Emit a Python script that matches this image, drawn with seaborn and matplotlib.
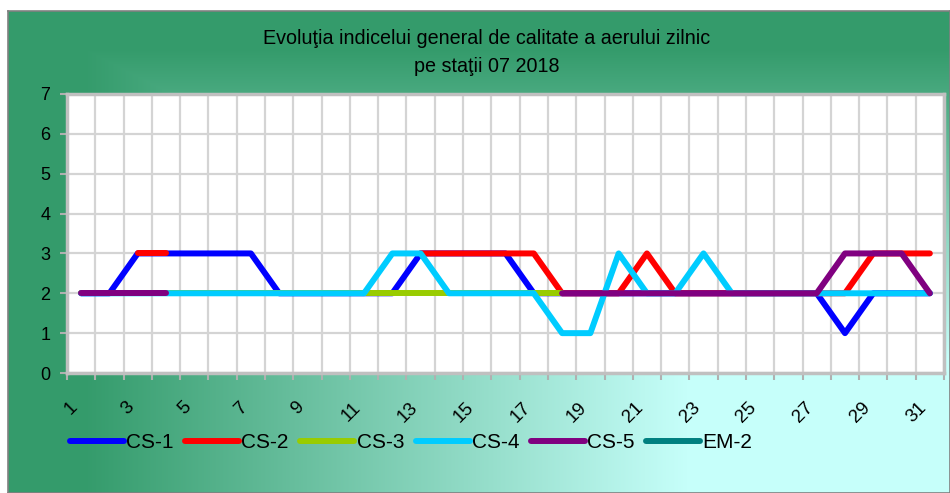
#set up modules
import numpy as np
import pandas as pd
import matplotlib
matplotlib.use("Agg")
import matplotlib.pyplot as plt
import matplotlib.transforms as mtransforms
from matplotlib.lines import Line2D
import seaborn as sns

nan = np.nan

#data (daily air quality index per station, July 2018)
days = list(range(1, 32))
stations = ["CS-1", "CS-2", "CS-3", "CS-4", "CS-5", "EM-2"]
cs1 = [2, 2, 3, 3, 3, 3, 3, 2, 2, 2, 2, 2, 3, 3, 3, 3, 2, 2, 2, 2, 2, 2, 2, 2, 2, 2, 2, 1, 2, 2, 2]
cs2 = [nan, nan, 3, 3, nan, nan, nan, nan, nan, nan, nan, nan, 3, 3, 3, 3, 3, 2, 2, 2, 3, 2, 2, 2, 2, 2, 2, 2, 3, 3, 3]
cs3 = [2, 2, 2, 2, 2, 2, 2, 2, 2, 2, 2, 2, 2, 2, 2, 2, 2, 2, nan, nan, nan, nan, nan, nan, nan, nan, nan, nan, nan, nan, nan]
cs4 = [2, 2, 2, 2, 2, 2, 2, 2, 2, 2, 2, 3, 3, 2, 2, 2, 2, 1, 1, 3, 2, 2, 3, 2, 2, 2, 2, 2, 2, 2, 2]
cs5 = [2, 2, 2, 2, nan, nan, nan, nan, nan, nan, nan, nan, nan, nan, nan, nan, nan, 2, 2, 2, 2, 2, 2, 2, 2, 2, 2, 3, 3, 3, 2]
em2 = [nan] * 31
series = [cs1, cs2, cs3, cs4, cs5, em2]
colors = ["#0000ff", "#ff0000", "#99cc00", "#00ccff", "#800080", "#008080"]

title = "Evoluţia indicelui general de calitate a aerului zilnic\npe staţii 07 2018"

plt.rcParams["font.family"] = ["Liberation Sans", "DejaVu Sans"]

W, H = 950, 493
LW = 4.3
fig = plt.figure(figsize=(W / 100, H / 100), dpi=100)

#background: corner gradient, light cyan at bottom right -> green
bg = fig.add_axes([8 / W, 0, 942 / W, 482 / H], zorder=-5)
gw, gh = 942, 482
xx, yy = np.meshgrid(np.arange(gw), np.arange(gh))  # row 0 = bottom (origin lower)
dx = (gw - xx) / gw
dy = yy / gh
t = np.maximum(dx, dy)
t = np.clip((t - 0.28) / (0.92 - 0.28), 0, 1)
green = np.array([0x34, 0x9b, 0x6b]) / 255
cyan = np.array([0xc6, 0xff, 0xfa]) / 255
img = cyan[None, None, :] * (1 - t[..., None]) + green[None, None, :] * t[..., None]
bg.imshow(img, aspect="auto", origin="lower", extent=(0, gw, 0, gh),
          interpolation="nearest")
bg.set_xticks([])
bg.set_yticks([])
for s in bg.spines.values():
    s.set_color("#808080")
    s.set_linewidth(1.2)

ax = fig.add_axes([67 / W, 1 - 373 / H, (944 - 67) / W, (373 - 94) / H])
ax.set_facecolor("white")

#draw each station, splitting at missing days so gaps stay open
for name, vals, col in zip(stations, series, colors):
    df = pd.DataFrame({"day": days, "value": vals})
    df["seg"] = df["value"].isna().cumsum()
    df = df.dropna()
    if len(df) == 0:
        continue
    sns.lineplot(data=df, x="day", y="value", units="seg", estimator=None,
                 color=col, linewidth=LW, solid_capstyle="round",
                 solid_joinstyle="round", legend=False, ax=ax)

ax.set_xlim(0.5, 31.5)
ax.set_ylim(0, 7)
ax.set_xlabel("")
ax.set_ylabel("")

ax.set_xticks(days[::2])
ax.set_xticklabels([str(d) for d in days[::2]], rotation=45, ha="right",
                   va="top", fontsize=13.5)
shift = mtransforms.ScaledTranslation(-10 / 100, 0, fig.dpi_scale_trans)
for lab in ax.get_xticklabels():
    lab.set_transform(lab.get_transform() + shift)
ax.set_xticks(np.arange(0.5, 32, 1), minor=True)
ax.tick_params(axis="x", which="major", length=0, pad=18.5)
ax.tick_params(axis="x", which="minor", length=5, width=1.5, color="#b0b0b0")
ax.set_yticks(range(0, 8))
ax.tick_params(axis="y", length=5, width=1.5, color="#b0b0b0", pad=7,
               labelsize=13)

ax.grid(True, axis="y", which="major", color="#d4d4d4", linewidth=1.6)
ax.grid(True, axis="x", which="minor", color="#d4d4d4", linewidth=1.6)
ax.set_axisbelow(True)
for s in ax.spines.values():
    s.set_color("#c0c0c0")
    s.set_linewidth(2.5)

fig.text(487 / W, 1 - 52 / H, title, ha="center", va="center",
         fontsize=14.2, linespacing=1.6)

handles = [Line2D([], [], color=c, linewidth=LW, solid_capstyle="round")
           for c in colors]
fig.legend(handles, stations, loc="center left",
           bbox_to_anchor=(70 / W, 1 - 443 / H), ncol=6, frameon=False,
           fontsize=15, handlelength=2.6, handletextpad=0.1,
           columnspacing=0.55, borderpad=0, borderaxespad=0)

fig.savefig("out.png", dpi=100)
